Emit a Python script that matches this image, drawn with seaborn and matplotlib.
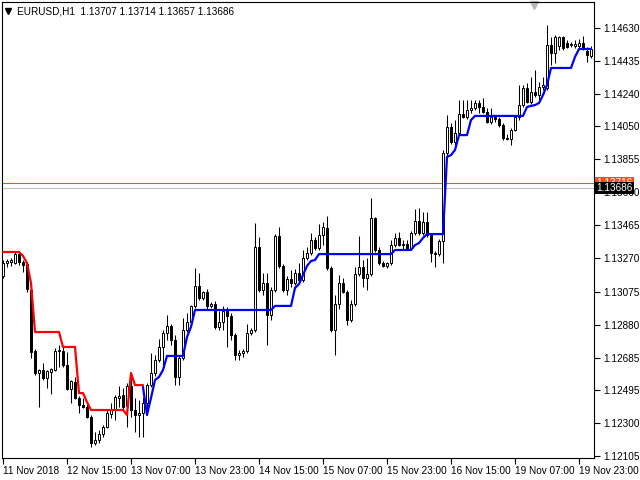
import numpy as np
import pandas as pd
import matplotlib
matplotlib.use("Agg")
import matplotlib.pyplot as plt
import matplotlib.transforms as mtransforms
import seaborn as sns

# ---- data ----
time_labels = ["11 Nov 2018", "12 Nov 15:00", "13 Nov 07:00", "13 Nov 23:00", "14 Nov 15:00",
               "15 Nov 07:00", "15 Nov 23:00", "16 Nov 15:00", "19 Nov 07:00", "19 Nov 23:00"]
bars_per_label = 16

price_ticks = [1.12105, 1.12300, 1.12495, 1.12685, 1.12880, 1.13075, 1.13270,
               1.13465, 1.13660, 1.13855, 1.14050, 1.14240, 1.14435, 1.14630]

opens = [
    1.13167, 1.13243, 1.13249, 1.13243, 1.13296, 1.13249, 1.13237, 1.13084, 1.12724, 1.12594,
    1.12612, 1.12565, 1.12600, 1.12612, 1.12724, 1.12724, 1.12641, 1.12500, 1.12541, 1.12447,
    1.12405, 1.12394, 1.12335, 1.12181, 1.12199, 1.12234, 1.12276, 1.12352, 1.12376, 1.12447,
    1.12464, 1.12400, 1.12518, 1.12376, 1.12346, 1.12358, 1.12417, 1.12523, 1.12594, 1.12671,
    1.12748, 1.12830, 1.12872, 1.12789, 1.12571, 1.12683, 1.12848, 1.12895, 1.12990, 1.13108,
    1.13037, 1.13072, 1.12990, 1.13001, 1.12866, 1.12895, 1.12960, 1.12931, 1.12818, 1.12700,
    1.12712, 1.12724, 1.12830, 1.12848, 1.13338, 1.13084, 1.13125, 1.12936, 1.13084, 1.13403,
    1.13226, 1.13084, 1.13149, 1.13125, 1.13184, 1.13143, 1.13273, 1.13302, 1.13379, 1.13332,
    1.13408, 1.13450, 1.13214, 1.12848, 1.13001, 1.13125, 1.13072, 1.12907, 1.13001, 1.13178,
    1.13220, 1.13155, 1.13178, 1.13509, 1.13320, 1.13243, 1.13226, 1.13243, 1.13349, 1.13391,
    1.13349, 1.13355, 1.13332, 1.13420, 1.13491, 1.13420, 1.13485, 1.13408, 1.13302, 1.13296,
    1.13373, 1.13892, 1.14046, 1.13957, 1.14010, 1.14122, 1.14105, 1.14146, 1.14158, 1.14187,
    1.14164, 1.14134, 1.14075, 1.14105, 1.14093, 1.14057, 1.13981, 1.13975, 1.14028, 1.14105,
    1.14175, 1.14276, 1.14193, 1.14252, 1.14234, 1.14282, 1.14276, 1.14529, 1.14482, 1.14524,
    1.14577, 1.14541, 1.14529, 1.14524, 1.14524, 1.14541, 1.14494, 1.14465]

highs = [
    1.13261, 1.13267, 1.13273, 1.13308, 1.13308, 1.13261, 1.13249, 1.13096, 1.12736, 1.12618,
    1.12653, 1.12612, 1.12624, 1.12742, 1.12759, 1.12748, 1.12718, 1.12553, 1.12571, 1.12459,
    1.12447, 1.12417, 1.12346, 1.12246, 1.12258, 1.12287, 1.12376, 1.12417, 1.12464, 1.12518,
    1.12506, 1.12535, 1.12594, 1.12447, 1.12435, 1.12453, 1.12535, 1.12712, 1.12700, 1.12795,
    1.12848, 1.12936, 1.12883, 1.12818, 1.12695, 1.12919, 1.12948, 1.12995, 1.13214, 1.13184,
    1.13078, 1.13090, 1.13013, 1.13019, 1.12960, 1.12990, 1.12984, 1.12948, 1.12830, 1.12730,
    1.12736, 1.12883, 1.12860, 1.13479, 1.13397, 1.13184, 1.13184, 1.13102, 1.13414, 1.13456,
    1.13237, 1.13167, 1.13202, 1.13208, 1.13243, 1.13320, 1.13338, 1.13420, 1.13397, 1.13473,
    1.13485, 1.13521, 1.13226, 1.13054, 1.13173, 1.13155, 1.13084, 1.13025, 1.13220, 1.13403,
    1.13261, 1.13273, 1.13627, 1.13515, 1.13338, 1.13255, 1.13249, 1.13379, 1.13420, 1.13426,
    1.13379, 1.13379, 1.13432, 1.13562, 1.13568, 1.13544, 1.13544, 1.13420, 1.13314, 1.13385,
    1.13910, 1.14116, 1.14069, 1.14087, 1.14205, 1.14205, 1.14205, 1.14205, 1.14205, 1.14205,
    1.14217, 1.14158, 1.14158, 1.14116, 1.14105, 1.14069, 1.14004, 1.14040, 1.14116, 1.14293,
    1.14293, 1.14305, 1.14341, 1.14382, 1.14311, 1.14341, 1.14647, 1.14577, 1.14588, 1.14583,
    1.14583, 1.14559, 1.14547, 1.14559, 1.14565, 1.14583, 1.14518, 1.14524]

lows = [
    1.13155, 1.13220, 1.13226, 1.13237, 1.13231, 1.13190, 1.13072, 1.12683, 1.12583, 1.12394,
    1.12553, 1.12506, 1.12470, 1.12606, 1.12630, 1.12630, 1.12494, 1.12417, 1.12441, 1.12358,
    1.12388, 1.12329, 1.12158, 1.12169, 1.12181, 1.12217, 1.12270, 1.12329, 1.12317, 1.12394,
    1.12376, 1.12276, 1.12335, 1.12246, 1.12217, 1.12217, 1.12346, 1.12512, 1.12577, 1.12659,
    1.12641, 1.12789, 1.12759, 1.12523, 1.12523, 1.12671, 1.12836, 1.12883, 1.12978, 1.13025,
    1.13025, 1.12972, 1.12978, 1.12854, 1.12848, 1.12848, 1.12748, 1.12789, 1.12671, 1.12671,
    1.12689, 1.12712, 1.12818, 1.12836, 1.13072, 1.13054, 1.12759, 1.12907, 1.13072, 1.13214,
    1.13072, 1.13054, 1.13102, 1.13113, 1.13137, 1.13131, 1.13261, 1.13290, 1.13320, 1.13320,
    1.13349, 1.13202, 1.12836, 1.12700, 1.12972, 1.13066, 1.12878, 1.12895, 1.12990, 1.13167,
    1.13102, 1.13084, 1.13167, 1.13308, 1.13231, 1.13220, 1.13214, 1.13231, 1.13338, 1.13344,
    1.13326, 1.13320, 1.13320, 1.13408, 1.13408, 1.13408, 1.13397, 1.13249, 1.13220, 1.13285,
    1.13243, 1.13863, 1.13945, 1.13939, 1.13998, 1.14099, 1.14093, 1.14128, 1.14146, 1.14128,
    1.14128, 1.14069, 1.14063, 1.14075, 1.14046, 1.13969, 1.13969, 1.13939, 1.14022, 1.14087,
    1.14164, 1.14187, 1.14181, 1.14223, 1.14205, 1.14264, 1.14264, 1.14411, 1.14423, 1.14500,
    1.14500, 1.14512, 1.14518, 1.14512, 1.14512, 1.14500, 1.14429, 1.14453]

closes = [
    1.13243, 1.13255, 1.13261, 1.13296, 1.13249, 1.13231, 1.13090, 1.12718, 1.12594, 1.12612,
    1.12565, 1.12606, 1.12618, 1.12724, 1.12730, 1.12641, 1.12500, 1.12547, 1.12447, 1.12405,
    1.12394, 1.12335, 1.12181, 1.12199, 1.12234, 1.12276, 1.12358, 1.12376, 1.12453, 1.12459,
    1.12394, 1.12518, 1.12376, 1.12346, 1.12358, 1.12417, 1.12523, 1.12594, 1.12671, 1.12748,
    1.12830, 1.12872, 1.12789, 1.12571, 1.12683, 1.12848, 1.12895, 1.12990, 1.13108, 1.13037,
    1.13072, 1.12990, 1.13001, 1.12866, 1.12895, 1.12960, 1.12931, 1.12818, 1.12700, 1.12712,
    1.12724, 1.12830, 1.12848, 1.13338, 1.13084, 1.13125, 1.12936, 1.13084, 1.13403, 1.13226,
    1.13084, 1.13149, 1.13125, 1.13184, 1.13143, 1.13273, 1.13302, 1.13379, 1.13332, 1.13408,
    1.13456, 1.13214, 1.12848, 1.13001, 1.13125, 1.13072, 1.12907, 1.13001, 1.13178, 1.13220,
    1.13155, 1.13178, 1.13509, 1.13320, 1.13243, 1.13226, 1.13243, 1.13349, 1.13391, 1.13349,
    1.13355, 1.13332, 1.13420, 1.13491, 1.13420, 1.13485, 1.13408, 1.13302, 1.13296, 1.13373,
    1.13892, 1.14046, 1.13957, 1.14010, 1.14122, 1.14105, 1.14146, 1.14158, 1.14187, 1.14164,
    1.14134, 1.14075, 1.14105, 1.14093, 1.14057, 1.13981, 1.13975, 1.14028, 1.14105, 1.14175,
    1.14276, 1.14193, 1.14252, 1.14234, 1.14282, 1.14293, 1.14529, 1.14482, 1.14577, 1.14577,
    1.14512, 1.14518, 1.14535, 1.14535, 1.14541, 1.14512, 1.14470, 1.14506]

# trailing stop line, red while short (bars 0-35), blue while long (bars 35-147)
red_start = 0
red_line = [
    1.13308, 1.13308, 1.13308, 1.13308, 1.13308, 1.13285, 1.13243, 1.13125,
    1.12836, 1.12836, 1.12836, 1.12836, 1.12836, 1.12836, 1.12836,
    1.12748, 1.12748, 1.12748, 1.12748, 1.12476, 1.12476, 1.12423,
    1.12376, 1.12376, 1.12376, 1.12376, 1.12376, 1.12376, 1.12376, 1.12376, 1.12376,
    1.12347, 1.12594, 1.12523, 1.12523, 1.12523]

blue_start = 35
blue_line = [
    1.12512, 1.12347, 1.12447, 1.12553, 1.12571, 1.12612,
    1.12695, 1.12695, 1.12695, 1.12695, 1.12695,
    1.12807, 1.12866,
    1.12966, 1.12966, 1.12966, 1.12966, 1.12966, 1.12966, 1.12966, 1.12966, 1.12966, 1.12966,
    1.12966, 1.12966, 1.12966, 1.12966, 1.12966, 1.12966, 1.12966, 1.12966, 1.12966, 1.12966,
    1.12990, 1.12990, 1.12990, 1.12990, 1.12990,
    1.13096, 1.13119, 1.13172, 1.13226, 1.13255, 1.13261,
    1.13296, 1.13296, 1.13296, 1.13296, 1.13296, 1.13296, 1.13296, 1.13296, 1.13296, 1.13296,
    1.13296, 1.13296, 1.13296, 1.13296, 1.13296, 1.13296, 1.13296, 1.13296, 1.13296,
    1.13320, 1.13320, 1.13320, 1.13320, 1.13320,
    1.13349, 1.13361, 1.13391,
    1.13414, 1.13414, 1.13414, 1.13414, 1.13414,
    1.13869, 1.13880, 1.13910,
    1.13998, 1.13998, 1.13998,
    1.14087,
    1.14111, 1.14111, 1.14111, 1.14111, 1.14111, 1.14111, 1.14111, 1.14111, 1.14111, 1.14111,
    1.14111, 1.14111, 1.14111,
    1.14164, 1.14170, 1.14175, 1.14187, 1.14234, 1.14293,
    1.14394, 1.14394, 1.14394, 1.14394, 1.14394, 1.14394,
    1.14459,
    1.14506, 1.14506, 1.14506, 1.14506]

title_text = "EURUSD,H1  1.13707 1.13714 1.13657 1.13686"
bid_price = 1.13686
ask_price = 1.13716

# ---- style ----
sns.set_style("white")
plt.rcParams['font.family'] = ['Liberation Sans', 'DejaVu Sans']

df = pd.DataFrame({'open': opens, 'high': highs, 'low': lows, 'close': closes})
df['bar'] = np.arange(len(df))
bull = df['close'] >= df['open']

fig = plt.figure(figsize=(6.4, 4.8), dpi=100)
ax = fig.add_axes([2 / 640, 22 / 480, 592 / 640, 456 / 480])
ax.set_facecolor('white')

# price lines (ask / bid)
ax.axhline(ask_price, color='#ff4a1a', linewidth=0.8, zorder=1)
ax.axhline(bid_price, color='#c0c0c0', linewidth=0.8, zorder=1)

# candles
ax.vlines(df['bar'], df['low'], df['high'], color='black', linewidth=0.75, zorder=2)
body_bottom = df[['open', 'close']].min(axis=1)
body_height = (df['close'] - df['open']).abs()
ax.bar(df['bar'], body_height, bottom=body_bottom, width=0.5,
       color=np.where(bull, 'white', 'black'), edgecolor='black', linewidth=0.7, zorder=3)

# trailing line
red_df = pd.DataFrame({'bar': np.arange(red_start, red_start + len(red_line)), 'level': red_line})
blue_df = pd.DataFrame({'bar': np.arange(blue_start, blue_start + len(blue_line)), 'level': blue_line})
sns.lineplot(data=red_df, x='bar', y='level', color='#ff0000', linewidth=1.6, ax=ax, zorder=4, legend=False)
sns.lineplot(data=blue_df, x='bar', y='level', color='#0000ff', linewidth=1.6, ax=ax, zorder=4, legend=False)

# axes
ax.set_xlim(-0.25, 147.75)
ax.set_ylim(1.120928, 1.147832)
ax.set_xlabel('')
ax.set_ylabel('')
ax.grid(False)
for sp in ax.spines.values():
    sp.set_visible(True)
    sp.set_color('black')
    sp.set_linewidth(0.8)

ax.set_xticks(np.arange(len(time_labels)) * bars_per_label)
ax.set_xticklabels(time_labels)
for lab in ax.get_xticklabels():
    lab.set_ha('left')
ax.yaxis.tick_right()
ax.set_yticks(price_ticks)
ax.set_yticklabels([f"{p:.5f}" for p in price_ticks])
ax.tick_params(axis='both', direction='out', length=4, width=0.8, color='black',
               labelsize=7.2, labelcolor='black')
ax.tick_params(axis='x', pad=1.5, bottom=True)
ax.tick_params(axis='y', pad=2.5, right=True, left=False)

# price labels on the scale
trans = mtransforms.blended_transform_factory(ax.transAxes, ax.transData)
ax.text(1.004, ask_price, f"{ask_price:.5f}", transform=trans, fontsize=7.2, color='white',
        va='center', ha='left', clip_on=False, zorder=6,
        bbox=dict(boxstyle='square,pad=0.12', facecolor='#ff4a1a', edgecolor='none'))
ax.text(1.004, bid_price, f"{bid_price:.5f}", transform=trans, fontsize=7.2, color='white',
        va='center', ha='left', clip_on=False, zorder=7,
        bbox=dict(boxstyle='square,pad=0.12', facecolor='black', edgecolor='none'))

# header
fig.text(17 / 640, 1 - 11 / 480, title_text, fontsize=7.2, color='black', va='center', ha='left')
ax.plot([8 / 640], [1 - 11 / 480], marker='v', markersize=4, color='black',
        transform=fig.transFigure, clip_on=False)
ax.plot([534 / 640], [1 - 5 / 480], marker='v', markersize=6, color='#b8b8b8',
        transform=fig.transFigure, clip_on=False)

fig.savefig('out.png', dpi=100)
